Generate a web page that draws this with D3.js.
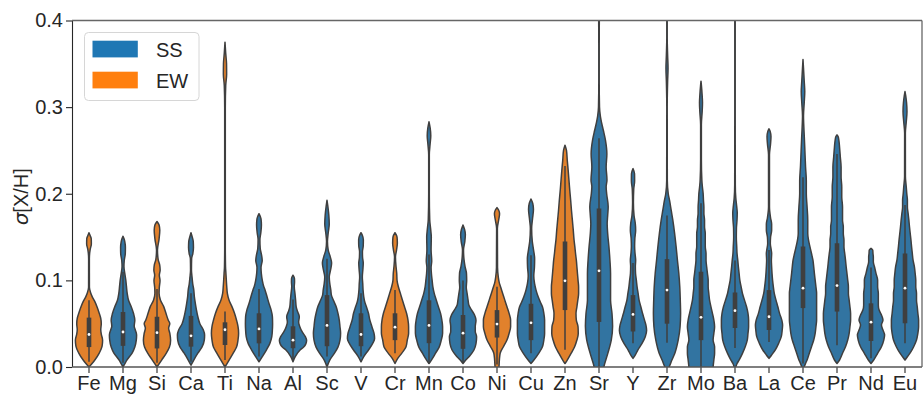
<!DOCTYPE html>
<html>
<head>
<meta charset="utf-8">
<script src="https://cdn.jsdelivr.net/npm/d3@7"></script>
<style>
  body { margin: 0; background: #fff; }
  svg { display: block; }
</style>
</head>
<body>
<svg id="chart" width="924" height="399"></svg>
<script>
// Elements and the source of each abundance uncertainty (synthetic spectra vs. equivalent widths)
const elements = ["Fe","Mg","Si","Ca","Ti","Na","Al","Sc","V","Cr","Mn","Co","Ni","Cu","Zn","Sr","Y","Zr","Mo","Ba","La","Ce","Pr","Nd","Eu"];
const method   = ["EW","SS","EW","SS","EW","SS","SS","SS","SS","EW","SS","SS","EW","SS","EW","SS","SS","SS","SS","SS","SS","SS","SS","SS","SS"];

// Box statistics of sigma[X/H] per element
const q1        = [0.023,0.0244,0.0214,0.0235,0.0254,0.0273,0.0217,0.024,0.024,0.031,0.0275,0.021,0.034,0.031,0.0657,0.052,0.041,0.05,0.031,0.045,0.0427,0.068,0.064,0.030,0.0505];
const median    = [0.0375,0.0404,0.0396,0.036,0.043,0.044,0.031,0.048,0.0375,0.046,0.048,0.039,0.0496,0.051,0.0995,0.111,0.0607,0.0888,0.0574,0.065,0.058,0.091,0.094,0.0517,0.091];
const q3        = [0.057,0.0635,0.058,0.059,0.0516,0.062,0.047,0.083,0.062,0.062,0.077,0.06,0.0657,0.073,0.145,0.183,0.083,0.1245,0.11,0.086,0.0888,0.139,0.143,0.0735,0.131];
const whiskerLo = [0.006,0.005,0.005,0.006,0.008,0.012,0.008,0.012,0.012,0.016,0.004,0.005,0.003,0.016,0.02,0.0,0.0275,0.028,0.0,0.022,0.029,0.004,0.025,0.01,0.0275];
const whiskerHi = [0.077,0.11,0.09,0.085,0.064,0.09,0.078,0.125,0.085,0.089,0.13,0.1,0.0926,0.129,0.232,0.264,0.12,0.175,0.189,0.123,0.135,0.219,0.246,0.115,0.187];

// Kernel density profiles: [sigma, density] pairs
const dFe = [[0,0],[0.004,3],[0.008,5.7],[0.016,10],[0.024,12.8],[0.031,13.3],[0.038,12],[0.043,11.5],[0.05,12],[0.056,11.5],[0.062,10],[0.069,8],[0.076,5.5],[0.081,3.2],[0.086,1.5],[0.092,0.4],[0.125,0.35],[0.136,1.2],[0.142,2.3],[0.148,2.2],[0.152,1],[0.155,0]];
const dMg = [[0,0],[0.004,1.8],[0.008,3.7],[0.016,8.7],[0.023,11.3],[0.031,12.7],[0.037,13],[0.043,11.7],[0.047,10.7],[0.054,11.3],[0.062,10],[0.07,7.7],[0.077,5.3],[0.085,4],[0.093,3.3],[0.1,2.7],[0.108,1.7],[0.116,0.9],[0.123,1.2],[0.131,2.2],[0.138,2.3],[0.144,1.8],[0.148,1],[0.151,0]];
const dSi = [[0,0],[0.008,4],[0.016,8],[0.023,10.7],[0.031,11.7],[0.039,11],[0.045,10],[0.05,11],[0.054,9.7],[0.062,7.7],[0.07,5.7],[0.077,3],[0.085,1.8],[0.092,2],[0.1,2.6],[0.106,2],[0.112,2.7],[0.118,2.3],[0.124,1],[0.135,0.4],[0.148,1.8],[0.158,2.4],[0.164,1.8],[0.168,0]];
const dCa = [[0.002,0],[0.008,2.7],[0.016,6.7],[0.023,10.7],[0.031,13],[0.037,13.3],[0.043,12],[0.05,8.7],[0.058,6.7],[0.066,5.3],[0.073,4.3],[0.081,3.3],[0.089,2.7],[0.096,1.7],[0.104,1],[0.112,0.45],[0.125,0.6],[0.131,1.8],[0.138,2.4],[0.145,2.2],[0.15,1.2],[0.155,0]];
const dTi = [[0,0],[0.008,4],[0.016,8],[0.023,11.3],[0.031,12.7],[0.039,13.3],[0.047,12.7],[0.054,11.3],[0.062,9.3],[0.07,6.7],[0.077,4],[0.085,2.3],[0.093,1.7],[0.1,1.3],[0.108,0.9],[0.116,0.5],[0.14,0.3],[0.3,0.3],[0.325,0.7],[0.338,1.6],[0.35,1.5],[0.362,0.7],[0.375,0]];
const dNa = [[0.006,0],[0.012,3.3],[0.0196,7.3],[0.027,10.7],[0.035,12.7],[0.043,13.3],[0.05,13.5],[0.058,13.3],[0.066,12],[0.073,10],[0.081,8],[0.089,6],[0.093,4.7],[0.1,3.3],[0.108,2.3],[0.115,2],[0.123,3.2],[0.13,2.4],[0.137,1.2],[0.147,0.9],[0.155,1.8],[0.164,2.4],[0.171,2],[0.177,0]];
const dAl = [[0.006,0],[0.012,2.3],[0.0196,7.3],[0.023,11],[0.027,13.3],[0.031,14],[0.035,12.7],[0.041,9.2],[0.0465,7],[0.052,5.8],[0.058,6.5],[0.064,4.7],[0.0695,3.3],[0.077,2.7],[0.085,2],[0.093,1.3],[0.098,1.6],[0.102,1.5],[0.106,0]];
const dSc = [[0,0],[0.008,2.7],[0.016,7.3],[0.023,10.7],[0.031,12.7],[0.039,13.3],[0.0465,12.7],[0.054,12],[0.062,10.7],[0.0695,9],[0.077,6.3],[0.083,4.3],[0.089,3.7],[0.0965,2.7],[0.104,2.2],[0.112,3.5],[0.12,4.5],[0.128,3],[0.135,1.2],[0.145,0.45],[0.155,1.2],[0.165,2.2],[0.175,1.8],[0.185,0.9],[0.1925,0]];
const dV  = [[0.006,0],[0.012,2.7],[0.0196,7.3],[0.027,11.3],[0.033,13.3],[0.039,12.7],[0.0465,10.7],[0.054,8.7],[0.062,7.3],[0.0695,5.3],[0.075,3.7],[0.081,2.7],[0.089,2],[0.0965,1.7],[0.104,1.3],[0.112,1.8],[0.12,2.2],[0.127,1.5],[0.133,1.4],[0.14,2.2],[0.147,2.3],[0.152,1.3],[0.155,0]];
const dCr = [[0.004,0],[0.01,2.7],[0.016,6.7],[0.023,10.7],[0.031,12],[0.039,13.3],[0.0465,13.3],[0.054,12.7],[0.062,11.3],[0.0695,9.3],[0.077,7.3],[0.085,5.3],[0.0926,3.3],[0.1,2],[0.108,1.7],[0.116,1],[0.127,0.45],[0.135,1.5],[0.143,2.3],[0.15,2],[0.155,0]];
const dMn = [[0.004,0],[0.008,2.3],[0.016,6.3],[0.023,9.7],[0.031,11.7],[0.039,13],[0.0465,13],[0.054,12.3],[0.062,11],[0.0695,9],[0.077,7],[0.085,5],[0.0926,3.7],[0.1,3],[0.108,2.3],[0.115,2],[0.122,2.6],[0.135,2],[0.15,2.2],[0.16,1.5],[0.17,0.7],[0.2,0.3],[0.245,0.3],[0.258,1.1],[0.267,1.7],[0.276,1.1],[0.283,0]];
const dCo = [[0.004,0],[0.008,2.7],[0.013,6.7],[0.0196,10.7],[0.027,12.7],[0.035,13.3],[0.041,12],[0.0465,12],[0.054,12.7],[0.06,11.3],[0.066,8.3],[0.0715,5.7],[0.077,5],[0.085,4],[0.092,3.2],[0.1,3.6],[0.108,3.4],[0.116,2],[0.124,1],[0.135,0.5],[0.145,1.8],[0.153,2.3],[0.159,1.5],[0.164,0]];
const dNi = [[-0.008,0],[-0.004,1.3],[0,1.8],[0.008,2.2],[0.016,3],[0.0234,6],[0.0311,9.3],[0.0388,11.3],[0.0465,12.7],[0.0542,12.7],[0.0619,11.3],[0.0695,9.3],[0.0772,7.3],[0.0849,5.3],[0.0926,3.3],[0.098,2],[0.104,1.2],[0.115,0.5],[0.16,0.35],[0.17,1.6],[0.177,2.4],[0.181,1.6],[0.184,0]];
const dCu = [[0.004,0],[0.008,2.7],[0.016,7.3],[0.0234,10.7],[0.0311,12],[0.0388,12.7],[0.0465,12.7],[0.0542,12.7],[0.0619,12],[0.0695,10.7],[0.075,8.7],[0.081,6.7],[0.0888,4.7],[0.0965,3.3],[0.105,2.6],[0.115,3.2],[0.125,3.4],[0.135,2.4],[0.145,1.2],[0.16,0.6],[0.172,1.5],[0.182,2.3],[0.189,1.6],[0.194,0]];
const dZn = [[0.004,0],[0.008,2],[0.016,5.5],[0.0234,8.5],[0.0311,10.5],[0.0388,11.7],[0.0465,11.5],[0.0542,10],[0.0619,9.7],[0.0695,10.5],[0.0772,11.3],[0.0849,12],[0.0926,12],[0.1003,11.5],[0.108,11],[0.1157,10.5],[0.1233,10],[0.131,9.3],[0.1387,8.7],[0.1464,8],[0.158,7.3],[0.1695,6.5],[0.181,5.7],[0.1925,5],[0.204,4.2],[0.2156,3.5],[0.2271,2.8],[0.2386,2],[0.25,1.3],[0.256,0]];
const dSr = [[-0.03,0],[-0.015,2.5],[0,4.7],[0.016,8.7],[0.031,12],[0.047,13.3],[0.062,12.7],[0.077,11.3],[0.093,11.3],[0.108,11.3],[0.123,10.7],[0.139,9.7],[0.154,8.5],[0.165,8],[0.175,8.5],[0.185,9],[0.2,7.5],[0.208,7],[0.216,7.8],[0.231,7],[0.246,7.7],[0.262,6.3],[0.273,4.3],[0.282,2.5],[0.289,1.4],[0.3,0.5],[0.33,0.2],[0.37,0.2],[0.4,0.3],[0.42,0.3]];
const dY  = [[0.01,0],[0.014,2.3],[0.0196,4.7],[0.027,8.7],[0.035,12],[0.042,13.3],[0.048,12.7],[0.054,11.3],[0.062,9.3],[0.069,7.8],[0.077,6],[0.085,5],[0.0926,4],[0.1,3.3],[0.108,2.5],[0.116,2.3],[0.123,2.6],[0.131,2],[0.139,1.6],[0.148,1.8],[0.158,2.6],[0.166,2.2],[0.175,1],[0.19,0.4],[0.205,0.7],[0.215,1.6],[0.223,1.5],[0.229,0]];
const dZr = [[-0.005,0],[0,2],[0.008,4.7],[0.016,7.5],[0.031,10.7],[0.0465,12.5],[0.062,13],[0.077,12.7],[0.093,12.2],[0.108,11.3],[0.123,10],[0.139,8.7],[0.154,7.3],[0.17,5.5],[0.181,4],[0.192,2.5],[0.2,1.2],[0.215,0.3],[0.3,0.2],[0.33,0.6],[0.345,1],[0.36,0.6],[0.38,0.2],[0.42,0.2]];
const dMo = [[-0.05,0],[-0.04,4],[-0.025,9],[-0.01,11],[0,11.3],[0.0081,12],[0.0158,12.7],[0.0234,12.7],[0.0311,11.3],[0.0388,12],[0.0465,12.7],[0.0542,12],[0.0619,10.7],[0.0695,9.3],[0.0772,8],[0.0849,7.3],[0.0926,6.7],[0.1003,6.7],[0.108,6],[0.1157,5.3],[0.1233,4.7],[0.131,4.7],[0.1387,4],[0.1541,4],[0.1618,3.3],[0.1695,3.3],[0.1771,2.7],[0.1848,2.7],[0.1925,2.3],[0.2002,2],[0.2079,1.3],[0.2156,0.8],[0.24,0.35],[0.28,0.35],[0.295,1.1],[0.305,1.4],[0.315,1],[0.325,0.4],[0.33,0]];
const dBa = [[-0.004,0],[0.004,2],[0.008,4],[0.0158,7.3],[0.0234,10],[0.0311,12],[0.0388,12.7],[0.0465,13.3],[0.0542,13.3],[0.0619,12.7],[0.0695,11.3],[0.0772,9.3],[0.0849,7.3],[0.0926,6],[0.1003,4.7],[0.108,4],[0.1157,3.3],[0.1233,2.7],[0.131,2],[0.1387,1.7],[0.15,1.3],[0.16,1.4],[0.17,2],[0.178,2.2],[0.186,1.6],[0.195,0.8],[0.21,0.3],[0.3,0.2],[0.4,0.2],[0.42,0.2]];
const dLa = [[0.01,0],[0.0139,2],[0.0196,4.7],[0.0273,7.3],[0.035,9.3],[0.0427,10],[0.0484,10.3],[0.0542,9.7],[0.0619,8],[0.0695,6.7],[0.0772,5.3],[0.0849,4],[0.0926,3.3],[0.1003,2.7],[0.108,2.3],[0.1157,2],[0.1233,1.8],[0.131,2],[0.1349,1.7],[0.1426,1],[0.15,1.2],[0.158,2],[0.165,2],[0.172,1.2],[0.185,0.35],[0.245,0.35],[0.258,1.2],[0.266,1.5],[0.272,0.9],[0.275,0]];
const dCe = [[-0.005,0],[0,1],[0.0042,2.3],[0.0081,3.7],[0.0158,5.7],[0.0234,7.7],[0.0311,9.7],[0.0388,11],[0.0465,11.7],[0.0542,12.3],[0.07,12.3],[0.0849,12.3],[0.0926,11.7],[0.1003,11],[0.108,10.3],[0.1157,9.7],[0.1233,9],[0.131,7.7],[0.1387,6.3],[0.1464,5],[0.1541,4.3],[0.1695,4.3],[0.1848,3.7],[0.2,3],[0.215,3],[0.231,2.3],[0.25,1.7],[0.262,1.3],[0.273,0.9],[0.29,0.45],[0.305,1.1],[0.318,1.6],[0.33,1.1],[0.345,0.45],[0.355,0]];
const dPr = [[0.004,0],[0.0081,2.3],[0.0158,5],[0.0234,7.7],[0.0311,9.7],[0.0388,11],[0.0465,11.7],[0.0542,12.3],[0.0619,12.3],[0.0695,11.7],[0.0772,11],[0.0849,10.3],[0.0926,10.3],[0.1003,9.7],[0.108,9],[0.1157,8.3],[0.1233,7.7],[0.131,7],[0.1387,6.3],[0.1464,6.3],[0.1541,5.7],[0.1618,5.7],[0.1695,5],[0.1848,5],[0.1963,4.3],[0.2079,4.3],[0.2194,3.7],[0.231,3.7],[0.2425,3],[0.254,2.3],[0.2617,1.7],[0.266,1],[0.268,0]];
const dNd = [[0.004,0],[0.0081,2.3],[0.0158,5.7],[0.0234,9],[0.0311,11],[0.0369,11.7],[0.0427,10.3],[0.0484,9],[0.0542,10.3],[0.06,9],[0.0657,7],[0.0714,6.3],[0.0772,6.3],[0.0849,6.3],[0.0926,5.7],[0.1003,5.7],[0.108,4.3],[0.1157,3],[0.1214,2],[0.1272,2],[0.131,1.7],[0.1349,1.5],[0.137,0]];
const dEu = [[0.008,0],[0.0119,2.3],[0.0177,5.7],[0.0234,8.3],[0.0311,11],[0.0388,12.3],[0.0465,13],[0.0542,13],[0.0619,12.3],[0.0695,11.7],[0.0772,11],[0.0849,11],[0.0926,10.3],[0.1003,10.3],[0.108,9.7],[0.1157,9],[0.1233,7.7],[0.131,7],[0.1387,6.3],[0.1464,5.7],[0.1541,5],[0.1618,4.3],[0.1695,3.7],[0.1771,3],[0.1848,2.3],[0.1925,2.3],[0.2002,1.7],[0.2079,1.2],[0.22,0.4],[0.27,0.35],[0.283,1.2],[0.295,1.9],[0.305,1.5],[0.313,0.7],[0.318,0]];
const densities = [dFe,dMg,dSi,dCa,dTi,dNa,dAl,dSc,dV,dCr,dMn,dCo,dNi,dCu,dZn,dSr,dY,dZr,dMo,dBa,dLa,dCe,dPr,dNd,dEu];

const yTicks = [0, 0.1, 0.2, 0.3, 0.4];
const legendLabels = ["SS", "EW"];

// ---- layout ----
const svg = d3.select("#chart");
const plot = { left: 72, right: 922, top: 20.5, bottom: 367 };
const FONT = "'Liberation Sans', Arial, sans-serif";
const INK = "#262626";
const EDGE = "#3f3f3f";

const x = d3.scaleBand().domain(elements).range([plot.left, plot.right]).padding(0);
const y = d3.scaleLinear().domain([0, 0.4]).range([plot.bottom, plot.top]);
const violinFill = d3.scaleOrdinal().domain(legendLabels).range(["#3274a1", "#e1812c"]);
const legendFill = d3.scaleOrdinal().domain(legendLabels).range(["#1f77b4", "#ff7f0e"]);

svg.append("defs").append("clipPath").attr("id", "plot-clip")
  .append("rect")
  .attr("x", plot.left).attr("y", plot.top)
  .attr("width", plot.right - plot.left).attr("height", plot.bottom - plot.top);

// ---- violins (each scaled to the same maximum width) ----
const halfWidth = x.bandwidth() * 0.4;
const violins = svg.append("g").attr("clip-path", "url(#plot-clip)");

elements.forEach((el, i) => {
  const prof = densities[i];
  const cx = x(el) + x.bandwidth() / 2;
  const w = d3.scaleLinear().domain([0, d3.max(prof, p => p[1])]).range([0, halfWidth]);
  const area = d3.area()
    .curve(d3.curveMonotoneY)
    .y(p => y(p[0]))
    .x0(p => cx - w(p[1]))
    .x1(p => cx + w(p[1]));

  const g = violins.append("g");
  g.append("path")
    .attr("d", area(prof))
    .attr("fill", violinFill(method[i]))
    .attr("stroke", EDGE)
    .attr("stroke-width", 1.5)
    .attr("stroke-linejoin", "round");

  // whiskers
  g.append("line")
    .attr("x1", cx).attr("x2", cx)
    .attr("y1", y(whiskerLo[i])).attr("y2", y(whiskerHi[i]))
    .attr("stroke", EDGE).attr("stroke-width", 1.5);
  // interquartile box
  g.append("line")
    .attr("x1", cx).attr("x2", cx)
    .attr("y1", y(q1[i])).attr("y2", y(q3[i]))
    .attr("stroke", EDGE).attr("stroke-width", 4.6);
  // median
  g.append("circle")
    .attr("cx", cx).attr("cy", y(median[i]))
    .attr("r", 1.4)
    .attr("fill", "#fff");
});

// ---- axes ----
const yAxis = d3.axisLeft(y).tickValues(yTicks).tickFormat(d3.format(".1f")).tickSize(6).tickPadding(3);
const gy = svg.append("g").attr("transform", `translate(${plot.left},0)`).call(yAxis);
gy.select(".domain").remove();

const xAxis = d3.axisBottom(x).tickSize(6).tickPadding(3);
const gx = svg.append("g").attr("transform", `translate(0,${plot.bottom})`).call(xAxis);
gx.select(".domain").remove();

[gy, gx].forEach(g => {
  g.selectAll(".tick line").attr("stroke", INK).attr("stroke-width", 1.1);
  g.selectAll(".tick text").attr("fill", INK).style("font-family", FONT).style("font-size", "20px");
});

// ---- spines ----
const spines = svg.append("g").attr("fill", "none");
spines.append("line").attr("x1", plot.left + 0.5).attr("x2", plot.left + 0.5)
  .attr("y1", plot.top).attr("y2", plot.bottom).attr("stroke", INK).attr("stroke-width", 1.1);
spines.append("line").attr("x1", plot.left).attr("x2", plot.right)
  .attr("y1", plot.bottom).attr("y2", plot.bottom).attr("stroke", "#555").attr("stroke-width", 1.3);
spines.append("line").attr("x1", plot.left).attr("x2", plot.right)
  .attr("y1", plot.top).attr("y2", plot.top).attr("stroke", "#666").attr("stroke-width", 1.3);
spines.append("line").attr("x1", plot.right).attr("x2", plot.right)
  .attr("y1", plot.top).attr("y2", plot.bottom).attr("stroke", "#666").attr("stroke-width", 1.3);

// ---- y label ----
const ylab = svg.append("text")
  .attr("transform", `translate(28,${(plot.top + plot.bottom) / 2 + 3}) rotate(-90)`)
  .attr("text-anchor", "middle")
  .attr("fill", INK)
  .style("font-family", FONT)
  .style("font-size", "20px");
ylab.append("tspan").style("font-family", "'DejaVu Sans', sans-serif").style("font-style", "italic").text("σ");
ylab.append("tspan").text("[X/H]");

// ---- legend ----
const legend = svg.append("g").attr("transform", "translate(84.5,32.5)");
legend.append("rect")
  .attr("width", 114.5).attr("height", 68).attr("rx", 4)
  .attr("fill", "#fff").attr("stroke", "#d6d6d6").attr("stroke-width", 1);
legendLabels.forEach((lab, i) => {
  const row = legend.append("g").attr("transform", `translate(8,${8.2 + i * 31})`);
  row.append("rect").attr("width", 45.3).attr("height", 16.7).attr("fill", legendFill(lab));
  row.append("text").attr("x", 63.5).attr("y", 15.8)
    .attr("fill", INK).style("font-family", FONT).style("font-size", "20px").text(lab);
});
</script>
</body>
</html>
